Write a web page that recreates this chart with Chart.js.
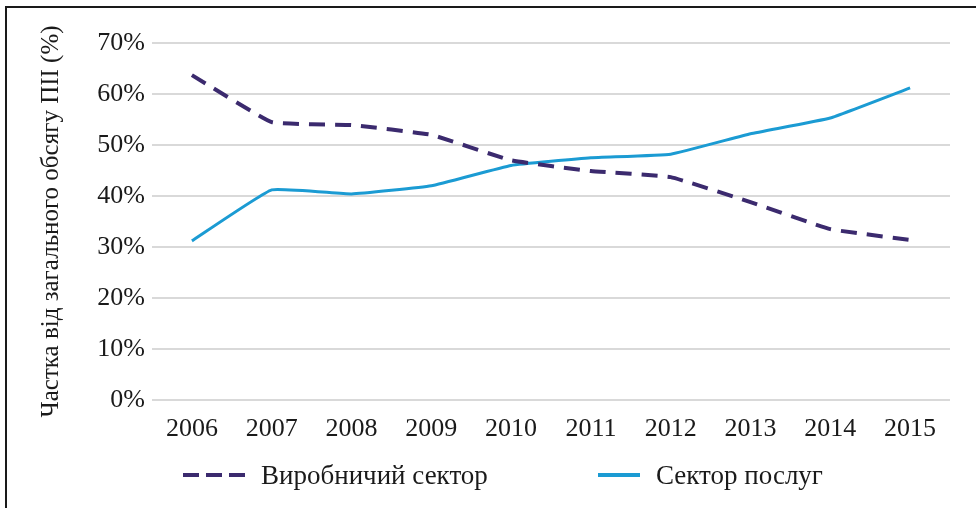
<!DOCTYPE html>
<html lang="uk">
<head>
    <meta charset="UTF-8">
    <title>Частка ПІІ за секторами</title>
    <script src="https://cdn.jsdelivr.net/npm/chart.js"></script>
    <style>
        body {
            margin: 0;
            padding: 0;
            background: #fff;
            font-family: "Liberation Serif", serif;
        }

        #wrap {
            position: relative;
            width: 976px;
            height: 508px;
            overflow: hidden;
        }

        /* only top and left edge of the frame are visible */
        #frame {
            position: absolute;
            left: 5px;
            top: 6px;
            width: 990px;
            height: 520px;
            border-top: 2px solid #1a1a1a;
            border-left: 2px solid #1a1a1a;
        }

        canvas {
            position: absolute;
            left: 0;
            top: 0;
        }

        #legend .item {
            position: absolute;
            top: 460px;
            display: flex;
            align-items: center;
            height: 30px;
            font-size: 27px;
            color: #1a1a1a;
        }

        #legend .item:nth-child(1) { left: 183px; }
        #legend .item:nth-child(2) { left: 598px; }

        #legend .sample {
            height: 4px;
            margin-right: 16px;
        }
    </style>
</head>
<body>

<div id="wrap">
    <div id="frame"></div>
    <canvas id="fdiChart" width="976" height="508"></canvas>
    <div id="legend"></div>
</div>

<script>
    const years = ['2006', '2007', '2008', '2009', '2010', '2011', '2012', '2013', '2014', '2015'];
    const manufacturing = [63.7, 54.5, 53.9, 52.0, 47.0, 44.9, 43.7, 38.8, 33.5, 31.4];
    const services = [31.2, 41.2, 40.4, 42.0, 46.0, 47.5, 48.2, 52.2, 55.3, 61.2];
    const yTicks = [0, 10, 20, 30, 40, 50, 60, 70];

    const tickFont = { family: "'Liberation Serif', serif", size: 26 };

    const ctx = document.getElementById('fdiChart').getContext('2d');

    const fdiChart = new Chart(ctx, {
        type: 'line',
        data: {
            labels: years,
            datasets: [
                {
                    label: 'Виробничий сектор',
                    data: manufacturing,
                    borderColor: '#3b2a6e',
                    borderWidth: 4,
                    borderDash: [16, 10],
                    pointRadius: 0,
                    tension: 0.1,
                    fill: false
                },
                {
                    label: 'Сектор послуг',
                    data: services,
                    borderColor: '#1b9bd3',
                    borderWidth: 3,
                    pointRadius: 0,
                    tension: 0.1,
                    fill: false
                }
            ]
        },
        options: {
            responsive: false,
            animation: false,
            layout: {
                padding: { top: 43, right: 26, left: 0, bottom: 0 }
            },
            plugins: {
                legend: { display: false },
                tooltip: { enabled: false }
            },
            scales: {
                x: {
                    offset: true,
                    grid: { display: false, drawTicks: false },
                    border: { display: false },
                    ticks: {
                        color: '#1a1a1a',
                        font: tickFont,
                        padding: 14,
                        maxRotation: 0
                    },
                    afterFit: function (scale) { scale.height = 108; }
                },
                y: {
                    min: 0,
                    max: 70,
                    afterBuildTicks: function (scale) {
                        scale.ticks = yTicks.map(v => ({ value: v }));
                    },
                    grid: { color: '#d9d9d9', lineWidth: 2, drawTicks: false },
                    border: { display: false },
                    ticks: {
                        color: '#1a1a1a',
                        font: tickFont,
                        padding: 7,
                        callback: v => v + '%'
                    },
                    title: {
                        display: true,
                        text: 'Частка від загального обсягу ПІІ (%)',
                        color: '#1a1a1a',
                        font: { family: "'Liberation Serif', serif", size: 25 },
                        padding: { top: 36, bottom: 0 }
                    },
                    afterFit: function (scale) { scale.width = 152; }
                }
            }
        }
    });

    // html legend built from the datasets
    const legendBox = document.getElementById('legend');
    fdiChart.data.datasets.forEach(ds => {
        let item = document.createElement('div');
        item.className = 'item';
        let sample = document.createElement('span');
        sample.className = 'sample';
        if (ds.borderDash) {
            sample.style.width = '62px';
            sample.style.background = 'repeating-linear-gradient(to right, ' + ds.borderColor +
                ' 0 16px, transparent 16px 23px)';
        } else {
            sample.style.width = '42px';
            sample.style.background = ds.borderColor;
        }
        let text = document.createElement('span');
        text.textContent = ds.label;
        item.appendChild(sample);
        item.appendChild(text);
        legendBox.appendChild(item);
    });
</script>

</body>
</html>
